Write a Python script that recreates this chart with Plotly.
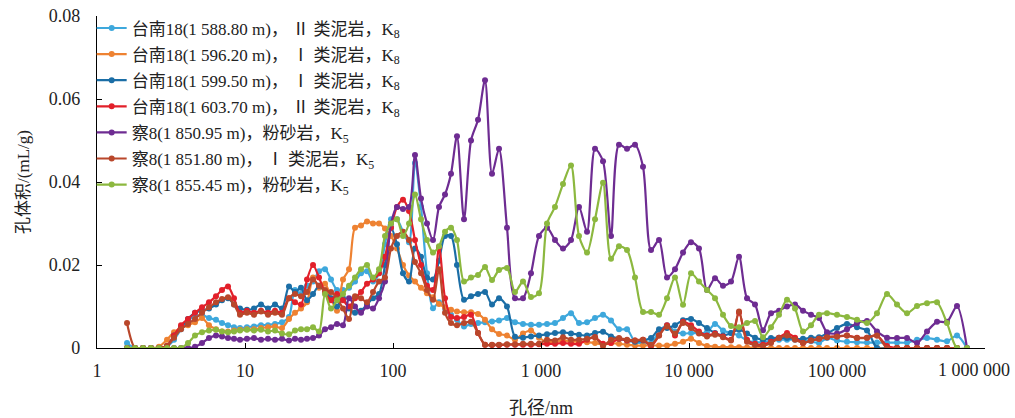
import plotly.graph_objects as go

# pore diameter grid (nm)
diam = [1.595, 1.806, 2.046, 2.317, 2.624, 2.972, 3.314, 3.695, 4.120, 4.594,
        5.122, 5.711, 6.368, 6.993, 7.677, 8.427, 9.252, 10.31, 11.50, 12.83,
        14.30, 15.95, 17.78, 19.83, 21.77, 23.90, 26.24, 28.81, 31.62, 34.72,
        38.12, 41.85, 45.94, 50.44, 55.37, 60.79, 66.74, 73.27, 80.44, 88.31,
        96.94, 106.4, 116.8, 128.3, 140.8, 154.6, 169.7, 186.3, 204.6, 224.6,
        246.6, 270.6, 301.8, 336.6, 375.3, 418.5, 466.7, 520.3, 589.2, 667.2,
        755.8, 855.8, 969.4, 1098, 1243, 1408, 1595, 1806, 2046, 2317,
        2624, 2972, 3365, 3812, 4317, 4889, 5538, 6272, 7103, 8044,
        9111, 10320, 11680, 13230, 14990, 16970, 19220, 21770, 24660, 27920,
        31620, 35820, 40560, 45940, 52030, 58930, 66740, 75590, 85610, 100000,
        116800, 136500, 159500, 186300, 217700, 254300, 297200, 347200, 405600, 474000,
        553700, 646900, 755800, 883200]

s1 = [0.0012, 0, 0, 0, 0, 0.0003, 0.002, 0.0045, 0.0068, 0.0075,
      0.008, 0.0072, 0.0068, 0.006, 0.0055, 0.005, 0.0048, 0.005, 0.0052, 0.0055,
      0.0055, 0.0058, 0.0062, 0.0075, 0.014, 0.013, 0.015, 0.016, 0.0185, 0.019,
      0.0165, 0.014, 0.014, 0.0145, 0.016, 0.018, 0.0185, 0.016, 0.018, 0.025,
      0.031, 0.031, 0.028, 0.0255, 0.0446, 0.034, 0.018, 0.0096, 0.011, 0.0095,
      0.008, 0.0068, 0.0052, 0.0058, 0.006, 0.0062, 0.0064, 0.0066, 0.0072, 0.0062,
      0.0058, 0.0056, 0.0056, 0.0058, 0.006, 0.0072, 0.0084, 0.006, 0.0062, 0.0072,
      0.008, 0.0066, 0.0045, 0.0045, 0.0015, 0.0012, 0.0012, 0.004, 0.0055, 0.004,
      0.0035, 0.0036, 0.0036, 0.0038, 0.0058, 0.0042, 0.0036, 0.003, 0.0018, 0.0014,
      0.0014, 0.0018, 0.002, 0.002, 0.002, 0.002, 0.0016, 0.0012, 0.0024, 0.0018,
      0.0015, 0.0014, 0.0013, 0.0013, 0.0013, 0.0013, 0.0013, 0.002, 0.0024, 0.002,
      0.0016, 0.003, 0.0, None]

s2 = [0, 0, 0, 0, 0.0003, 0.002, 0.0038, 0.0048, 0.0055, 0.0062,
      0.0072, 0.0055, 0.0045, 0.004, 0.004, 0.0042, 0.0044, 0.0045, 0.0045, 0.0048,
      0.005, 0.0052, 0.0048, 0.007, 0.0085, 0.0095, 0.011, 0.017, 0.0145, 0.0155,
      0.012, 0.009, 0.0165, 0.019, 0.029, 0.0295, 0.0305, 0.030, 0.030, 0.0288,
      0.027, 0.024, 0.020, 0.0175, 0.016, 0.0145, 0.0132, 0.0122, 0.0106, 0.0098,
      0.0092, 0.0088, 0.0086, 0.0086, 0.0082, 0.0068, 0.0045, 0.0034, 0.003, 0.002,
      0.0035, 0.0042, 0.0025, 0.0014, 0.0015, 0.0018, 0.0016, 0.0015, 0.0014, 0.0012,
      0.0008, 0.0012, 0.001, 0.0008, 0.0006, 0.0006, 0.0006, 0.0006, 0.0006, 0.001,
      0.0015, 0.0022, 0.0012, 0.0005, 0.0003, 0.0002, 0.0002, 0.0002, 0.0001, 0.0001,
      0, 0, 0, 0, 0, 0, 0, 0, 0, 0,
      0, 0, 0, 0, 0, 0, 0, 0, 0, 0,
      0, 0, None, None]

s3 = [0, 0, 0, 0, 0, 0.0005, 0.003, 0.005, 0.007, 0.0085,
      0.009, 0.0095, 0.0105, 0.0115, 0.012, 0.0105, 0.0095, 0.0092, 0.0095, 0.0105,
      0.0095, 0.0105, 0.0095, 0.0148, 0.0135, 0.0145, 0.0115, 0.013, 0.015, 0.0135,
      0.012, 0.010, 0.012, 0.0095, 0.0085, 0.009, 0.0105, 0.012, 0.013, 0.020,
      0.029, 0.025, 0.018, 0.016, 0.024, 0.022, 0.017, 0.0165, 0.021, 0.027,
      0.027, 0.020, 0.0116, 0.0125, 0.013, 0.0135, 0.0105, 0.012, 0.010, 0.0027,
      0.0025, 0.0028, 0.003, 0.0033, 0.0036, 0.0038, 0.0035, 0.0032, 0.003, 0.0036,
      0.0039, 0.0028, 0.0022, 0.0018, 0.0015, 0.0018, 0.0024, 0.0045, 0.0048, 0.0055,
      0.0067, 0.007, 0.006, 0.0048, 0.0036, 0.003, 0.0036, 0.0044, 0.0035, 0.0025,
      0.002, 0.0024, 0.0025, 0.0024, 0.0022, 0.0022, 0.0025, 0.0026, 0.0035, 0.0048,
      0.0058, 0.005, 0.0042, 0.0, 0, 0, 0, 0, 0, 0,
      0, 0, None, None]

s4 = [0, 0, 0, 0, 0, 0.0005, 0.003, 0.0055, 0.007, 0.0085,
      0.0098, 0.011, 0.0125, 0.014, 0.0148, 0.012, 0.0085, 0.009, 0.0085, 0.009,
      0.0085, 0.009, 0.0085, 0.012, 0.011, 0.0105, 0.0165, 0.020, 0.017, 0.0135,
      0.0115, 0.013, 0.0115, 0.010, 0.012, 0.0135, 0.0155, 0.0165, 0.018, 0.022,
      0.029, 0.034, 0.0357, 0.033, 0.026, 0.020, 0.015, 0.014, 0.0243, 0.012,
      0.0075, 0.0072, 0.0075, 0.008, 0.0036, 0.0008, 0.0007, 0.0007, 0.0008, 0.0008,
      0.0008, 0.0008, 0.0009, 0.001, 0.001, 0.0012, 0.001, 0.001, 0.002, 0.0026,
      0.001, 0.0012, 0.0022, 0.0018, 0.0018, 0.002, 0.0005, 0.003, 0.0055, 0.003,
      0.0063, 0.0055, 0.004, 0.003, 0.0035, 0.0028, 0.002, 0.0085, 0.002, 0.001,
      0.0008, 0.0015, 0.0025, 0.0036, 0.0025, 0.0012, 0.0018, 0.0022, 0.0026, 0.0028,
      0.003, 0.0025, 0.0025, 0.003, 0.0005, 0, 0, 0, 0, 0,
      0, 0, None, None]

s5 = [0, 0, 0, 0, 0, 0, 0, 0, 0, 0.0003,
      0.0012, 0.0024, 0.003, 0.0028, 0.0024, 0.0022, 0.002, 0.0022, 0.0024, 0.002,
      0.0022, 0.002, 0.0022, 0.0018, 0.0022, 0.002, 0.0022, 0.0024, 0.003, 0.0045,
      0.005, 0.0058, 0.0055, 0.012, 0.010, 0.0085, 0.010, 0.0095, 0.012, 0.016,
      0.030, 0.034, 0.0335, 0.034, 0.0465, 0.036, 0.030, 0.026, 0.034, 0.037,
      0.042, 0.051, 0.031, 0.050, 0.055, 0.0645, 0.042, 0.048, 0.029, 0.012,
      0.012, 0.018, 0.027, 0.029, 0.026, 0.024, 0.026, 0.034, 0.028, 0.048,
      0.045, 0.027, 0.049, 0.048, 0.049, 0.0437, 0.0236, 0.026, 0.017, 0.019,
      0.023, 0.0255, 0.024, 0.014, 0.0168, 0.015, 0.016, 0.022, 0.012, 0.0105,
      0.0043, 0.0084, 0.009, 0.010, 0.0105, 0.009, 0.008, 0.0072, 0.0038, 0.0035,
      0.0045, 0.006, 0.0065, 0.004, 0.0025, 0.0024, 0.0024, 0.0012, 0.004, 0.0063,
      0.0063, 0.0101, 0.0, None]

s6 = [0.006, 0, 0, 0, 0, 0.0005, 0.0025, 0.0045, 0.0058, 0.007,
      0.0085, 0.0098, 0.011, 0.0118, 0.0122, 0.0105, 0.008, 0.0085, 0.008, 0.0088,
      0.008, 0.0085, 0.008, 0.012, 0.013, 0.0125, 0.0135, 0.0165, 0.015, 0.014,
      0.0135, 0.012, 0.0095, 0.007, 0.0125, 0.012, 0.011, 0.0135, 0.016, 0.017,
      0.024, 0.027, 0.028, 0.026, 0.0207, 0.018, 0.014, 0.0116, 0.019, 0.0085,
      0.006, 0.0055, 0.006, 0.0063, 0.0036, 0.0008, 0.0008, 0.0008, 0.0009, 0.0009,
      0.001, 0.001, 0.001, 0.002, 0.0018, 0.0026, 0.002, 0.002, 0.0022, 0.0026,
      0.0005, 0.002, 0.0024, 0.002, 0.0018, 0.002, 0.0008, 0.003, 0.0052, 0.0035,
      0.006, 0.0048, 0.0035, 0.0028, 0.0032, 0.0026, 0.0018, 0.0088, 0.0015, 0.0007,
      0.0005, 0.0012, 0.0024, 0.003, 0.002, 0.0012, 0.0018, 0.0022, 0.0026, 0.0028,
      0.003, 0.0024, 0.0025, 0.003, 0.0, 0, 0, 0, 0, 0,
      0, 0, None, None]

s7 = [0, 0, 0, 0, 0, 0, 0, 0, 0.0012, 0.003,
      0.0038, 0.0042, 0.0044, 0.004, 0.0038, 0.004, 0.0042, 0.0044, 0.0042, 0.0044,
      0.004, 0.0042, 0.0035, 0.0033, 0.0042, 0.0045, 0.0045, 0.005, 0.004, 0.013,
      0.0095, 0.0115, 0.013, 0.015, 0.017, 0.019, 0.020, 0.017, 0.019, 0.027,
      0.030, 0.031, 0.027, 0.030, 0.037, 0.031, 0.026, 0.023, 0.0245, 0.028,
      0.029, 0.026, 0.016, 0.017, 0.0176, 0.0195, 0.0164, 0.0188, 0.0193, 0.0135,
      0.016, 0.0123, 0.0132, 0.030, 0.034, 0.0395, 0.044, 0.027, 0.023, 0.031,
      0.0398, 0.0215, 0.0245, 0.0236, 0.017, 0.0087, 0.0087, 0.008, 0.012, 0.017,
      0.0104, 0.018, 0.016, 0.014, 0.012, 0.008, 0.0053, 0.005, 0.006, 0.0065,
      0.0026, 0.005, 0.008, 0.0116, 0.0095, 0.004, 0.0055, 0.008, 0.0084, 0.008,
      0.0075, 0.0068, 0.006, 0.0084, 0.013, 0.0105, 0.0084, 0.0101, 0.0108, 0.011,
      0.006, 0.0, 0.0, None]

names = [
    "台南18(1 588.80 m)， Ⅱ 类泥岩，K<sub>8</sub>",
    "台南18(1 596.20 m)， Ⅰ 类泥岩，K<sub>8</sub>",
    "台南18(1 599.50 m)， Ⅰ 类泥岩，K<sub>8</sub>",
    "台南18(1 603.70 m)， Ⅱ 类泥岩，K<sub>8</sub>",
    "察8(1 850.95 m)，粉砂岩，K<sub>5</sub>",
    "察8(1 851.80 m)， Ⅰ 类泥岩，K<sub>5</sub>",
    "察8(1 855.45 m)，粉砂岩，K<sub>5</sub>",
]
colors = ["#3ea8dc", "#ee8232", "#1b6ea6", "#e2202a", "#6e2c92", "#b9472b", "#8cb83f"]
series = [s1, s2, s3, s4, s5, s6, s7]

x_tickvals = [1, 10, 100, 1000, 10000, 100000, 1000000]
x_ticktext = ["1", "10", "100", "1 000", "10 000", "100 000", ""]
x_last_label = "1 000 000"
y_tickvals = [0, 0.02, 0.04, 0.06, 0.08]
y_ticktext = ["0", "0.02", "0.04", "0.06", "0.08"]

FONT = "Liberation Serif, Times New Roman, Noto Sans CJK SC, serif"

fig = go.Figure()
for i, (name, col, ys) in enumerate(zip(names, colors, series)):
    fig.add_trace(go.Scatter(
        x=diam, y=ys, name=name, mode="lines+markers", legendgroup=f"g{i}",
        line=dict(color=col, width=2.2, shape="spline", smoothing=0.8),
        marker=dict(color=col, size=6),
        connectgaps=False,
    ))

# last tick label, nudged left so it stays inside the page (as in the reference)
fig.add_annotation(
    x=6, y=0, xref="x", yref="paper", text=x_last_label, showarrow=False,
    xanchor="center", yanchor="top", xshift=-11, yshift=-10,
    font=dict(family=FONT, size=18, color="#222"),
)

fig.update_layout(
    width=1015, height=418,
    margin=dict(l=97, r=30, t=16, b=70, autoexpand=False),
    plot_bgcolor="white", paper_bgcolor="white",
    font=dict(family=FONT, size=16, color="#222"),
    showlegend=True,
    legend=dict(x=-0.006, y=0.975, xref="paper", yref="container",
                xanchor="left", yanchor="top",
                bgcolor="rgba(0,0,0,0)", font=dict(family=FONT, size=17, color="#222"),
                itemwidth=30, traceorder="grouped", tracegroupgap=1),
)
fig.update_xaxes(
    type="log", range=[0, 6], tickvals=x_tickvals, ticktext=x_ticktext,
    ticks="inside", ticklen=5, tickcolor="black", showline=True, linecolor="black",
    linewidth=1.3, showgrid=False, zeroline=False, tickfont=dict(size=18),
    ticklabelstandoff=6, automargin=False,
    title=dict(text="孔径/nm", font=dict(size=18), standoff=24),
)
fig.update_yaxes(
    range=[0, 0.08], tickvals=y_tickvals, ticktext=y_ticktext,
    ticks="inside", ticklen=5, tickcolor="black", showline=True, linecolor="black",
    linewidth=1.3, showgrid=False, zeroline=False, tickfont=dict(size=18),
    ticklabelstandoff=12, automargin=False, ticklabeloverflow="allow",
    title=dict(text="孔体积/(mL/g)", font=dict(size=17), standoff=14),
)

fig.write_html("out.html")
